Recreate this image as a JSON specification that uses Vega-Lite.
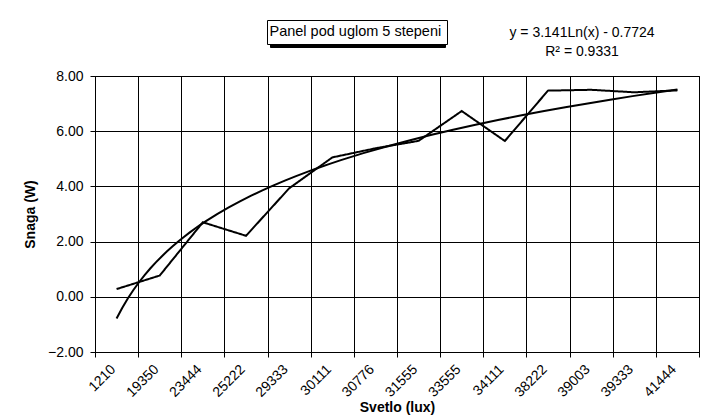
{
  "$schema": "https://vega.github.io/schema/vega-lite/v6.json",
  "width": 604,
  "height": 276,
  "autosize": {"type": "none"},
  "padding": {"left": 95, "top": 76, "right": 2, "bottom": 68},
  "background": "white",
  "config": {
    "font": "Liberation Sans",
    "view": {"stroke": "black", "strokeWidth": 1},
    "axis": {
      "domainColor": "black",
      "tickColor": "black",
      "gridColor": "black",
      "gridOpacity": 1,
      "labelColor": "black",
      "titleColor": "black",
      "labelFontSize": 14,
      "titleFontSize": 14,
      "titleFontWeight": "bold",
      "labelFont": "Liberation Sans",
      "titleFont": "Liberation Sans"
    }
  },
  "title": {
    "text": "y = 3.141Ln(x) - 0.7724",
    "subtitle": "\u00a0\u00a0\u00a0\u00a0\u00a0\u00a0R² = 0.9331",
    "anchor": "middle",
    "dx": 185,
    "dy": 53,
    "fontSize": 14,
    "fontWeight": "normal",
    "subtitleFontSize": 14,
    "color": "black",
    "subtitleColor": "black",
    "font": "Liberation Sans",
    "subtitleFont": "Liberation Sans",
    "offset": 14,
    "subtitlePadding": 5
  },
  "data": {
    "values": [
      {"i": 1, "lux": "1210", "w": 0.28},
      {"i": 2, "lux": "19350", "w": 0.77},
      {"i": 3, "lux": "23444", "w": 2.70},
      {"i": 4, "lux": "25222", "w": 2.21},
      {"i": 5, "lux": "29333", "w": 3.93},
      {"i": 6, "lux": "30111", "w": 5.05},
      {"i": 7, "lux": "30776", "w": 5.38},
      {"i": 8, "lux": "31555", "w": 5.65},
      {"i": 9, "lux": "33555", "w": 6.73},
      {"i": 10, "lux": "34111", "w": 5.645},
      {"i": 11, "lux": "38222", "w": 7.47},
      {"i": 12, "lux": "39003", "w": 7.50},
      {"i": 13, "lux": "39333", "w": 7.41},
      {"i": 14, "lux": "41444", "w": 7.48}
    ]
  },
  "layer": [
    {
      "mark": {"type": "line", "color": "black", "strokeWidth": 2},
      "encoding": {
        "x": {
          "field": "i",
          "type": "quantitative",
          "scale": {"domain": [0.5, 14.5], "nice": false, "zero": false},
          "axis": {
            "values": [0.5, 1.5, 2.5, 3.5, 4.5, 5.5, 6.5, 7.5, 8.5, 9.5, 10.5, 11.5, 12.5, 13.5, 14.5],
            "labelExpr": "datum.value < 14 ? ['1210','19350','23444','25222','29333','30111','30776','31555','33555','34111','38222','39003','39333','41444'][floor(datum.value)] : ''",
            "labelOffset": 13,
            "labelAngle": -45,
            "labelAlign": "right",
            "labelBaseline": "top",
            "labelPadding": 5,
            "labelOverlap": false,
            "labelFlush": false,
            "labelBound": false,
            "tickSize": 5,
            "grid": true,
            "title": "Svetlo (lux)",
            "titlePadding": 1
          }
        },
        "y": {
          "field": "w",
          "type": "quantitative",
          "scale": {"domain": [-2, 8], "nice": false, "zero": false},
          "axis": {
            "values": [-2, -1, 0, 1, 2, 3, 4, 5, 6, 7, 8],
            "format": ".2f",
            "tickSize": 5,
            "labelPadding": 7,
            "grid": true,
            "title": "Snaga (W)",
            "titlePadding": 10
          }
        },
        "color": {
          "datum": "shadow",
          "type": "nominal",
          "scale": {"range": ["black"]},
          "legend": {
            "title": null,
            "orient": "none",
            "legendX": 175,
            "legendY": -53,
            "zindex": 0,
            "strokeColor": "black",
            "fillColor": "black",
            "padding": 5,
            "symbolSize": 0,
            "symbolStrokeWidth": 0,
            "symbolOpacity": 0,
            "labelOffset": 150,
            "labelFontSize": 14.5,
            "labelColor": "black",
            "labelFont": "Liberation Sans",
            "labelLimit": 400,
            "labelExpr": "'\u00a0'"
          }
        },
        "strokeDash": {
          "datum": "Panel pod uglom 5 stepeni",
          "type": "nominal",
          "scale": {"range": [[1, 0]]},
          "legend": {
            "title": null,
            "orient": "none",
            "legendX": 172,
            "legendY": -56,
            "zindex": 1,
            "strokeColor": "black",
            "fillColor": "white",
            "padding": 5,
            "symbolSize": 0,
            "symbolStrokeWidth": 0,
            "symbolOpacity": 0,
            "labelOffset": -17,
            "labelFontSize": 14.5,
            "labelColor": "black",
            "labelFont": "Liberation Sans",
            "labelLimit": 400
          }
        }
      }
    },
    {
      "transform": [{"regression": "w", "on": "i", "method": "log", "extent": [1, 14]}],
      "mark": {"type": "line", "color": "black", "strokeWidth": 2},
      "encoding": {
        "x": {"field": "i", "type": "quantitative"},
        "y": {"field": "w", "type": "quantitative"}
      }
    }
  ]
}
